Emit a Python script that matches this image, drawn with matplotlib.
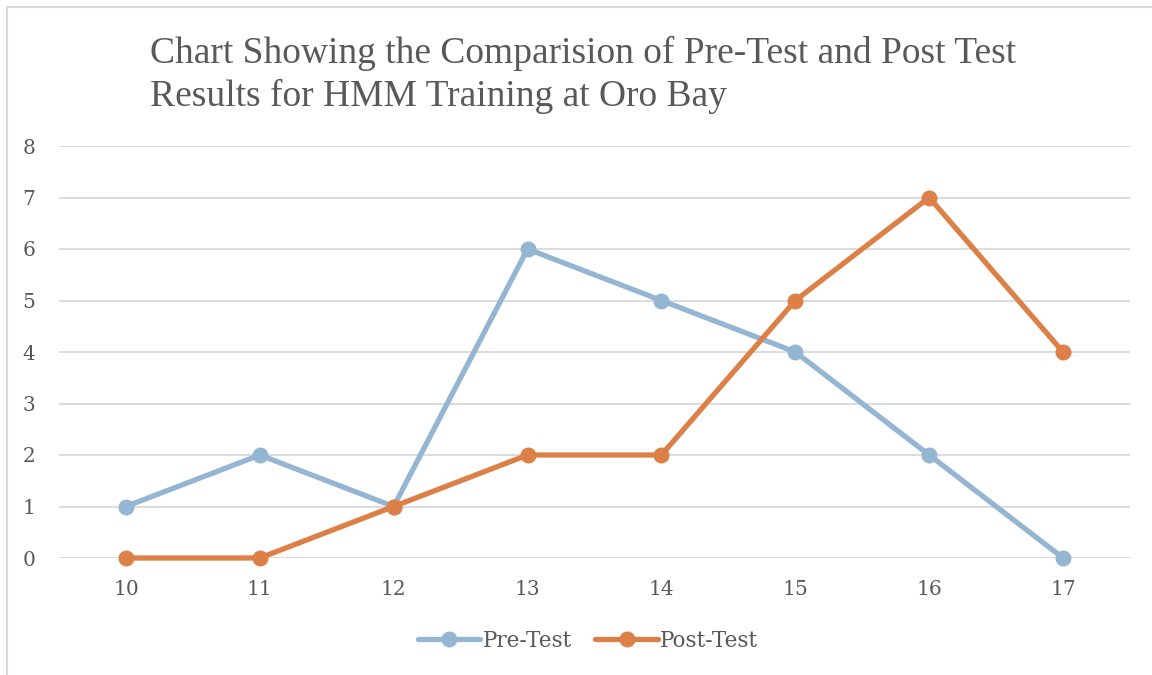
import matplotlib
matplotlib.use("Agg")
import matplotlib.pyplot as plt
from matplotlib.patches import Rectangle

categories = [10, 11, 12, 13, 14, 15, 16, 17]
pre_test = [1, 2, 1, 6, 5, 4, 2, 0]
post_test = [0, 0, 1, 2, 2, 5, 7, 4]
y_ticks = [0, 1, 2, 3, 4, 5, 6, 7, 8]
title = "Chart Showing the Comparision of Pre-Test and Post Test\nResults for HMM Training at Oro Bay"

W, H = 1152, 675
fig = plt.figure(figsize=(W / 100, H / 100), dpi=100)
fig.patch.set_facecolor("white")

# outer chart border (left and top visible)
fig.add_artist(Rectangle((7 / W, -0.1), 1.2, 1 - 7 / H + 0.1, transform=fig.transFigure,
                         fill=False, edgecolor="#d9d9d9", linewidth=1.5))

ax = fig.add_axes([59 / W, 1 - 558 / H, (1130 - 59) / W, (558 - 146) / H])
ax.set_xlim(9.5, 17.5)
ax.set_ylim(0, 8)

text_color = "#595959"
tick_font = "DejaVu Serif"

ax.plot(categories, pre_test, color="#94B6D2", lw=3.8, marker="o", ms=10.5,
        label="Pre-Test", clip_on=False, zorder=3, solid_capstyle="round")
ax.plot(categories, post_test, color="#DD8047", lw=3.8, marker="o", ms=10.5,
        label="Post-Test", clip_on=False, zorder=4, solid_capstyle="round")

ax.set_yticks(y_ticks)
ax.set_xticks(categories)
ax.grid(axis="y", color="#d9d9d9", lw=1.3)
ax.set_axisbelow(True)
for s in ax.spines.values():
    s.set_visible(False)
ax.tick_params(length=0, colors=text_color, labelsize=14.5)
ax.tick_params(axis="y", pad=17)
ax.tick_params(axis="x", pad=16)
for lbl in ax.get_xticklabels() + ax.get_yticklabels():
    lbl.set_family(tick_font)

fig.text(150 / W, 1 - 36 / H, title, ha="left", va="top", fontsize=27,
         family="Liberation Serif", color=text_color, linespacing=1.3)

leg = fig.legend(loc="center", bbox_to_anchor=(588 / W, 1 - 641 / H), ncol=2,
                 frameon=False, handlelength=2.9, columnspacing=1.1, handletextpad=0.1,
                 prop={"family": tick_font, "size": 15.5})
for t in leg.get_texts():
    t.set_color(text_color)

fig.savefig("out.png", dpi=100, facecolor="white")
